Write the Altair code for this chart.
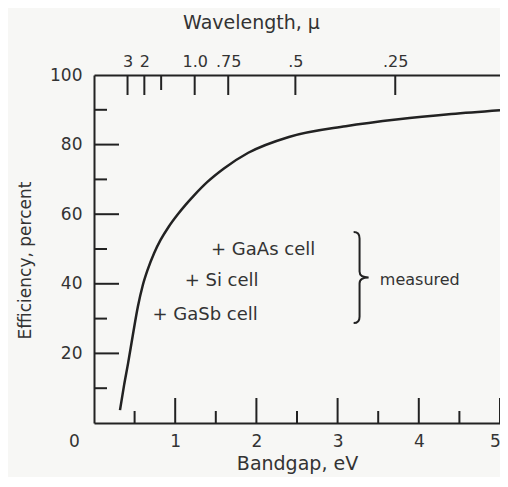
import altair as alt
import pandas as pd

# ---- data ----
bandgap_ev = [0.32, 0.37, 0.42, 0.48, 0.54, 0.60, 0.66, 0.74, 0.82, 0.92, 1.03,
              1.13, 1.23, 1.40, 1.60, 1.90, 2.40, 3.10, 3.75, 4.40, 5.00]
efficiency_pct = [3.7, 10.8, 17.2, 25.5, 33.4, 39.5, 44.0, 48.8, 52.6, 56.4, 59.9,
                  62.75, 65.35, 69.35, 73.15, 77.65, 82.2, 85.3, 87.3, 88.8, 89.9]

cell_names = ["GaAs cell", "Si cell", "GaSb cell"]
cell_ev = [1.534, 1.209, 0.812]
cell_eff = [49.7, 40.8, 31.0]

y_major = [20, 40, 60, 80]
y_minor = [10, 30, 50, 70, 90]
y_labels = [20, 40, 60, 80, 100]
x_major = [1, 2, 3, 4, 5]
x_minor = [0.5, 1.5, 2.5, 3.5, 4.5]
x_labels = [0, 1, 2, 3, 4, 5]

wl_labels = ["3", "2", "1.0", ".75", ".5", ".25"]
wl_ev = [0.413, 0.62, 1.24, 1.653, 2.48, 3.71]
wl_minor_ev = [0.827]

brace_ev = [3.29]
brace_eff = [41.8]
note_text = ["measured"]
note_ev = [3.52]
note_eff = [41.1]

FONT = "DejaVu Sans"
INK = "#222222"
TXT = "#333333"
W, H = 406, 348

xscale = alt.Scale(domain=[0, 5], nice=False, zero=False)
yscale = alt.Scale(domain=[0, 100], nice=False)

curve_df = pd.DataFrame({"E": bandgap_ev, "eff": efficiency_pct})
cells_df = pd.DataFrame({"name": ["+ " + n for n in cell_names], "E": cell_ev, "eff": cell_eff})

bottom_axis = alt.Axis(
    orient="bottom", values=x_labels, title="Bandgap, eV", grid=False,
    ticks=False, tickSize=0, domain=True, domainColor=INK, domainWidth=2,
    labelFont=FONT, labelFontSize=17, labelColor=TXT, labelBaseline="alphabetic",
    labelPadding=23, labelFlush=False, labelOverlap=False,
    labelOffset=alt.ExprRef(expr="datum.value == 0 ? -20 : (datum.value == 5 ? -5 : 0)"),
    titleFont=FONT, titleFontSize=19, titleFontWeight="normal", titleColor=TXT,
    titleBaseline="alphabetic", titleY=46,
)
left_axis = alt.Axis(
    orient="left", values=y_labels, title="Efficiency, percent", grid=False,
    ticks=False, tickSize=0, domain=True, domainColor=INK, domainWidth=2,
    labelFont=FONT, labelFontSize=17, labelColor=TXT, labelPadding=12,
    labelFlush=False, labelOverlap=False,
    titleFont=FONT, titleFontSize=17, titleFontWeight="normal", titleColor=TXT,
    titleBaseline="alphabetic", titleX=-64, titleY=185,
)
wl_expr = "[" + ",".join("'" + s + "'" for s in wl_labels) + "][indexof([" + \
    ",".join(str(v) for v in wl_ev) + "], datum.value)]"
top_axis = alt.Axis(
    orient="top", values=wl_ev, title="Wavelength, \u03bc", grid=False,
    ticks=False, tickSize=0, domain=True, domainColor=INK, domainWidth=2,
    labelExpr=wl_expr, labelFont=FONT, labelFontSize=16, labelColor=TXT,
    labelBaseline="alphabetic", labelPadding=9, labelFlush=False, labelOverlap=False,
    titleFont=FONT, titleFontSize=19, titleFontWeight="normal", titleColor=TXT,
    titleBaseline="alphabetic", titleX=157, titleY=-47,
)


def yenc():
    return alt.Y("eff:Q", scale=yscale, axis=left_axis)


curve = alt.Chart(curve_df).mark_line(color=INK, strokeWidth=2.5, interpolate="monotone").encode(
    x=alt.X("E:Q", scale=xscale, axis=bottom_axis),
    y=yenc(),
)

top_ticks = alt.Chart(pd.DataFrame({"E": wl_ev})).mark_rule(color=INK, strokeWidth=2).encode(
    x=alt.X("E:Q", scale=xscale, axis=top_axis),
    y=alt.value(0), y2=alt.value(20),
)
top_minor = alt.Chart(pd.DataFrame({"E": wl_minor_ev})).mark_rule(color=INK, strokeWidth=2).encode(
    x=alt.X("E:Q", scale=xscale, axis=None),
    y=alt.value(0), y2=alt.value(15),
)
bot_major = alt.Chart(pd.DataFrame({"E": x_major})).mark_rule(color=INK, strokeWidth=2).encode(
    x=alt.X("E:Q", scale=xscale, axis=None),
    y=alt.value(H), y2=alt.value(H - 25),
)
bot_minor = alt.Chart(pd.DataFrame({"E": x_minor})).mark_rule(color=INK, strokeWidth=2).encode(
    x=alt.X("E:Q", scale=xscale, axis=None),
    y=alt.value(H), y2=alt.value(H - 12),
)
left_major = alt.Chart(pd.DataFrame({"eff": y_major})).mark_rule(color=INK, strokeWidth=2).encode(
    y=yenc(),
    x=alt.value(0), x2=alt.value(25),
)
left_minor = alt.Chart(pd.DataFrame({"eff": y_minor})).mark_rule(color=INK, strokeWidth=2).encode(
    y=yenc(),
    x=alt.value(0), x2=alt.value(13),
)

cells = alt.Chart(cells_df).mark_text(
    font=FONT, fontSize=18, color=TXT, align="left", baseline="middle", dx=-7.5
).encode(
    x=alt.X("E:Q", scale=xscale, axis=None),
    y=yenc(),
    text="name:N",
)

BRACE = ("M -0.165 -1 C -0.07 -1 -0.035 -0.96 -0.035 -0.86 L -0.035 -0.13 "
         "C -0.035 -0.04 0.04 0 0.165 0 C 0.04 0 -0.035 0.04 -0.035 0.13 "
         "L -0.035 0.86 C -0.035 0.96 -0.07 1 -0.165 1")
brace = alt.Chart(pd.DataFrame({"E": brace_ev, "eff": brace_eff})).mark_point(
    shape=BRACE, filled=False, size=8281, strokeWidth=2, color=INK, opacity=1
).encode(
    x=alt.X("E:Q", scale=xscale, axis=None),
    y=yenc(),
)

note = alt.Chart(pd.DataFrame({"t": note_text, "E": note_ev, "eff": note_eff})).mark_text(
    font=FONT, fontSize=16, color=TXT, align="left", baseline="middle"
).encode(
    x=alt.X("E:Q", scale=xscale, axis=None),
    y=yenc(),
    text="t:N",
)

chart = alt.layer(
    curve, top_ticks, top_minor, bot_major, bot_minor, left_major, left_minor,
    cells, brace, note
).resolve_axis(x="independent").properties(
    width=W, height=H,
    autosize=alt.AutoSizeParams(type="none"),
    padding={"left": 86, "top": 67, "right": 0, "bottom": 54},
    background="#f7f7f5",
).configure_view(stroke=None)

chart.save("out.html", embed_options={"renderer": "svg", "actions": False})
